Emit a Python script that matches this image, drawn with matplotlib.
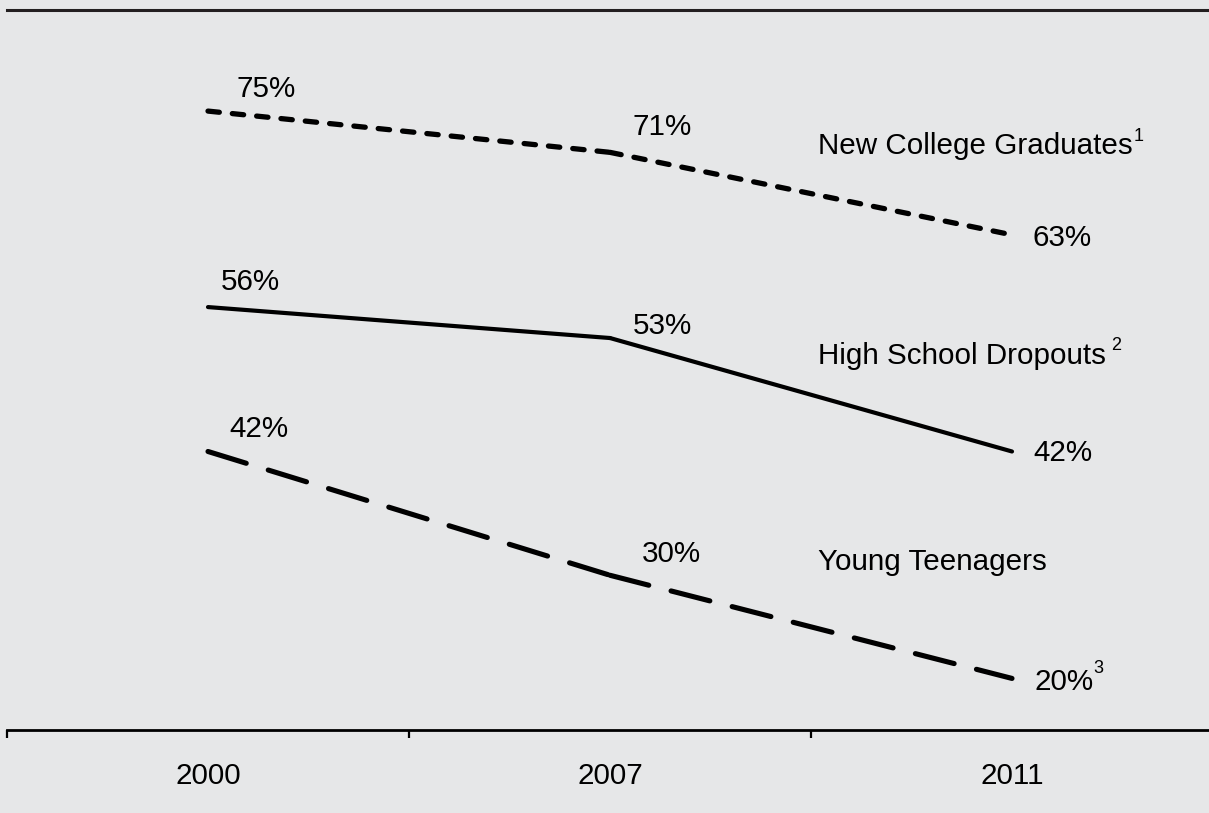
import matplotlib
matplotlib.use('Agg')
import matplotlib.pyplot as plt

plt.rcParams['font.family'] = ['Liberation Sans', 'DejaVu Sans']
plt.rcParams['lines.scale_dashes'] = False

years = ['2000', '2007', '2011']
college_grads = [75, 71, 63]
hs_dropouts = [56, 53, 42]
young_teens = [42, 30, 20]

series_names = ['New College Graduates', 'High School Dropouts', 'Young Teenagers']
footnotes = ['1', '2', '']
end_footnotes = ['', '', '3']

bg = '#e6e7e8'
fs = 21.3

fig = plt.figure(figsize=(12.09, 8.13), dpi=100, facecolor=bg)
ax = fig.add_axes([7 / 1209, 83 / 813, 1206 / 1209, 720 / 813])
ax.set_facecolor(bg)

x = list(range(len(years)))

# each segment gets its own dash pattern, restarting at every year
styles = [
    (college_grads, dict(lw=3.8, dashes=(8.2, 9.4), dash_capstyle='round')),
    (hs_dropouts, dict(lw=3.0, solid_capstyle='round')),
    (young_teens, dict(lw=3.7, dashes=(28.8, 16.6), dash_capstyle='round')),
]
for vals, kw in styles:
    for i in range(len(x) - 1):
        ax.plot(x[i:i + 2], vals[i:i + 2], color='black', **kw)

ax.set_xlim(-0.5, 2.5)
ax.set_ylim(15, 84.8)

# point labels, offsets in pixels from each point
px = 72 / 100
label_offsets = [
    (college_grads, [(29, 22), (23, 25), (21, -3)]),
    (hs_dropouts, [(13, 25), (23, 12), (21, -2)]),
    (young_teens, [(21, 22), (32, 21), (22, -4)]),
]
last_labels = []
for vals, offs in label_offsets:
    for i, (dx, dy) in enumerate(offs):
        t = ax.annotate(f'{vals[i]}%', xy=(x[i], vals[i]),
                        xytext=(dx * px, dy * px), textcoords='offset points',
                        ha='left', va='center', fontsize=fs)
    last_labels.append(t)

# series names to the right of the 2007 points
name_y = [71.6, 51.3, 31.3]
for name, yv, fn in zip(series_names, name_y, footnotes):
    t = ax.text(1.517, yv, name, ha='left', va='center', fontsize=fs)
    if fn:
        gap = 1 if fn == '1' else 5
        ax.annotate(fn, xy=(1, 0.85), xycoords=t, xytext=(gap * px, 0),
                    textcoords='offset points', ha='left', va='center',
                    fontsize=13)

for t, fn in zip(last_labels, end_footnotes):
    if fn:
        ax.annotate(fn, xy=(1, 1.0), xycoords=t, xytext=(0, 0),
                    textcoords='offset points', ha='left', va='center',
                    fontsize=13)

for side in ['left', 'right']:
    ax.spines[side].set_visible(False)
ax.spines['top'].set_color('#231f20')
ax.spines['top'].set_linewidth(2.2)
ax.spines['bottom'].set_color('black')
ax.spines['bottom'].set_linewidth(2.0)

ax.set_yticks([])
ax.set_xticks([-0.5, 0.5, 1.5, 2.5])
ax.set_xticklabels([])
ax.tick_params(axis='x', which='major', direction='out', length=5.5,
               width=1.6, color='black')
ax.set_xticks(x, minor=True)
ax.set_xticklabels(years, minor=True, fontsize=fs)
ax.tick_params(axis='x', which='minor', length=0, pad=23)

fig.savefig('out.png', dpi=100, facecolor=bg)
